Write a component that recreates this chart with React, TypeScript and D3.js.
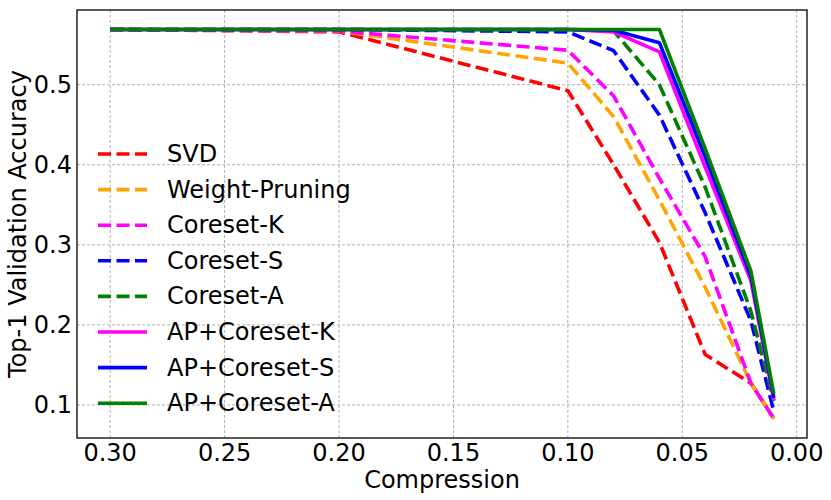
import React from "react";
import * as d3 from "d3";

const compression = [0.3, 0.2, 0.1, 0.08, 0.06, 0.04, 0.02, 0.01];
const svd = [0.569, 0.566, 0.4925, 0.4, 0.303, 0.163, 0.127, 0.083];
const weightPruning = [0.569, 0.567, 0.527, 0.46, 0.356, 0.247, 0.127, 0.083];
const coresetK = [0.569, 0.567, 0.543, 0.486, 0.383, 0.285, 0.127, 0.083];
const coresetS = [0.569, 0.569, 0.566, 0.5425, 0.462, 0.34, 0.205, 0.092];
const coresetA = [0.569, 0.569, 0.569, 0.567, 0.5, 0.372, 0.217, 0.105];
const apCoresetK = [0.569, 0.569, 0.569, 0.566, 0.541, 0.397, 0.255, 0.106];
const apCoresetS = [0.569, 0.569, 0.569, 0.568, 0.5525, 0.41, 0.261, 0.109];
const apCoresetA = [0.569, 0.569, 0.569, 0.569, 0.569, 0.42, 0.267, 0.114];

const xTicks = [0.3, 0.25, 0.2, 0.15, 0.1, 0.05, 0.0];
const yTicks = [0.1, 0.2, 0.3, 0.4, 0.5];

const seriesNames = [
  "SVD",
  "Weight-Pruning",
  "Coreset-K",
  "Coreset-S",
  "Coreset-A",
  "AP+Coreset-K",
  "AP+Coreset-S",
  "AP+Coreset-A",
];
const seriesValues = [svd, weightPruning, coresetK, coresetS, coresetA, apCoresetK, apCoresetS, apCoresetA];
const seriesColors = ["#ff0000", "#ffa500", "#ff00ff", "#0000ff", "#008000", "#ff00ff", "#0000ff", "#008000"];
const seriesDashed = [true, true, true, true, true, false, false, false];

const W = 831;
const H = 500;
const left = 77;
const right = 807;
const top = 10;
const bottom = 438;
const FONT = "DejaVu Sans, sans-serif";

export default function App() {
  const allVals = seriesValues.flat();
  const yMin = d3.min(allVals)!;
  const yMax = d3.max(allVals)!;
  const yPad = (yMax - yMin) * 0.05;
  const xMin = d3.min(compression)!;
  const xMax = d3.max(compression)!;
  const xPad = (xMax - xMin) * 0.05;

  const x = d3.scaleLinear().domain([xMax + xPad, xMin - xPad]).range([left, right]);
  const y = d3.scaleLinear().domain([yMin - yPad, yMax + yPad]).range([bottom, top]);

  const line = d3
    .line<[number, number]>()
    .x((d) => x(d[0]))
    .y((d) => y(d[1]));

  const lw = 3.6;
  const dash = "13,5.5";
  const legendX0 = 98;
  const legendX1 = 147;
  const legendTextX = 167;
  const legendY0 = 154;
  const legendStep = 35.6;

  return (
    <svg
      width={W}
      height={H}
      style={{ position: "absolute", left: 0, top: 0, background: "#fff" }}
      fontFamily={FONT}
    >
      <rect x={0} y={0} width={W} height={H} fill="#fff" />
      {/* grid */}
      {xTicks.map((t) => (
        <line
          key={"gx" + t}
          x1={x(t)}
          x2={x(t)}
          y1={top}
          y2={bottom}
          stroke="#b0b0b0"
          strokeWidth={1}
          strokeDasharray="3,2"
        />
      ))}
      {yTicks.map((t) => (
        <line
          key={"gy" + t}
          x1={left}
          x2={right}
          y1={y(t)}
          y2={y(t)}
          stroke="#b0b0b0"
          strokeWidth={1}
          strokeDasharray="3,2"
        />
      ))}
      {/* series */}
      <g>
        {seriesValues.map((vals, i) => (
          <path
            key={seriesNames[i]}
            d={line(compression.map((c, j) => [c, vals[j]] as [number, number]))!}
            fill="none"
            stroke={seriesColors[i]}
            strokeWidth={lw}
            strokeDasharray={seriesDashed[i] ? dash : undefined}
            strokeLinejoin="round"
          />
        ))}
      </g>
      {/* frame */}
      <rect x={left} y={top} width={right - left} height={bottom - top} fill="none" stroke="#000" strokeWidth={1.3} />
      {/* tick labels */}
      {xTicks.map((t) => (
        <text key={"tx" + t} x={x(t)} y={461} fontSize={24} textAnchor="middle" fill="#000">
          {d3.format(".2f")(t)}
        </text>
      ))}
      {yTicks.map((t) => (
        <text
          key={"ty" + t}
          x={72}
          y={y(t)}
          fontSize={24}
          textAnchor="end"
          dominantBaseline="central"
          fill="#000"
        >
          {d3.format(".1f")(t)}
        </text>
      ))}
      {/* axis labels */}
      <text x={(left + right) / 2} y={488} fontSize={24} textAnchor="middle" fill="#000">
        Compression
      </text>
      <text
        transform={`translate(26,${(top + bottom) / 2}) rotate(-90)`}
        fontSize={24}
        textAnchor="middle"
        fill="#000"
      >
        Top-1 Validation Accuracy
      </text>
      {/* legend */}
      {seriesNames.map((name, i) => {
        const ly = legendY0 + i * legendStep;
        return (
          <g key={"lg" + name}>
            <line
              x1={legendX0}
              x2={legendX1}
              y1={ly}
              y2={ly}
              stroke={seriesColors[i]}
              strokeWidth={lw}
              strokeDasharray={seriesDashed[i] ? dash : undefined}
            />
            <text x={legendTextX} y={ly} fontSize={24} dominantBaseline="central" fill="#000">
              {name}
            </text>
          </g>
        );
      })}
    </svg>
  );
}
